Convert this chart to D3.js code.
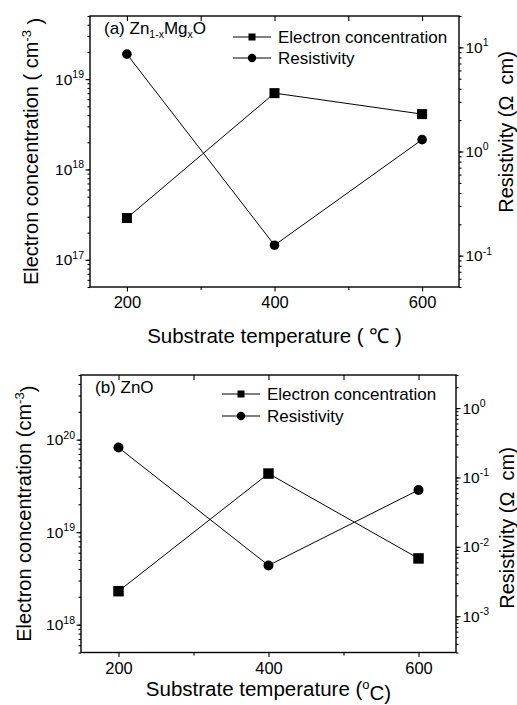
<!DOCTYPE html>
<html>
<head>
	<title>Electron concentration and resistivity</title>
	<script src="https://d3js.org/d3.v7.min.js"></script>
	<style>
		body { margin: 0; background: #fff; }
		text { font-family: "Liberation Sans", Arial, sans-serif; fill: #000; white-space: pre; }
	</style>
</head>
<body>
<script>
var temps = [200, 400, 600];
var xMajor = [200, 400, 600];
var xMinor = [300, 500];

// (a) Zn1-xMgxO
var electronA = [2.9e17, 7.0e18, 4.1e18];
var resistA = [8.6, 0.126, 1.3];
var leftTicksA = [1e17, 1e18, 1e19];
var rightTicksA = [1e-1, 1e0, 1e1];

// (b) ZnO
var electronB = [2.3e18, 4.3e19, 5.2e18];
var resistB = [0.27, 0.0054, 0.066];
var leftTicksB = [1e18, 1e19, 1e20];
var rightTicksB = [1e-3, 1e-2, 1e-1, 1e0];

var legendNames = ["Electron concentration", "Resistivity"];

var svg = d3.select("body")
       .append("svg")
       .attr("width", 517)
       .attr("height", 705);

function minorLog(scale) {
	var dom = scale.domain();
	return scale.ticks().filter(function(d){
		return d >= dom[0] * 0.999 && d <= dom[1] * 1.001;
	});
}

function supLabels(ax, size) {
	ax.selectAll(".tick text").each(function(d){
		var t = d3.select(this).text("10");
		t.append("tspan")
			.attr("dy", "-0.62em")
			.attr("font-size", size)
			.text(Math.round(Math.log10(d)));
	});
}

function panel(o) {
	var g = svg.append("g");
	var x = d3.scaleLinear().domain([150, 650]).range([o.left, o.right]);
	var yl = d3.scaleLog().domain(o.leftDomain).range([o.bottom, o.top]);
	var yr = d3.scaleLog().domain(o.rightDomain).range([o.bottom, o.top]);

	// bottom axis, ticks out
	var bx = g.append("g").attr("transform", "translate(0," + o.bottom + ")")
		.call(d3.axisBottom(x).tickValues(xMajor).tickSize(4.5).tickPadding(5).tickSizeOuter(0));
	bx.selectAll("text").attr("font-size", 16.5);
	g.append("g").attr("transform", "translate(0," + o.bottom + ")")
		.call(d3.axisBottom(x).tickValues(xMinor).tickSize(3).tickFormat("").tickSizeOuter(0));
	// top axis, ticks in
	g.append("g").attr("transform", "translate(0," + o.top + ")")
		.call(d3.axisTop(x).tickValues(xMajor.concat(xMinor)).tickSize(-5).tickFormat("").tickSizeOuter(0));

	// left axis
	var la = g.append("g").attr("transform", "translate(" + o.left + ",0)")
		.call(d3.axisLeft(yl).tickValues(o.leftTicks).tickSize(4.5).tickPadding(1.5).tickSizeOuter(0));
	la.selectAll("text").attr("font-size", 15.5);
	supLabels(la, 10.5);
	g.append("g").attr("transform", "translate(" + o.left + ",0)")
		.call(d3.axisLeft(yl).tickValues(minorLog(yl)).tickSize(2.5).tickFormat("").tickSizeOuter(0));

	// right axis
	var ra = g.append("g").attr("transform", "translate(" + o.right + ",0)")
		.call(d3.axisRight(yr).tickValues(o.rightTicks).tickSize(4.5).tickPadding(2).tickSizeOuter(0));
	ra.selectAll("text").attr("font-size", 15.5);
	supLabels(ra, 10.5);
	g.append("g").attr("transform", "translate(" + o.right + ",0)")
		.call(d3.axisRight(yr).tickValues(minorLog(yr)).tickSize(2.5).tickFormat("").tickSizeOuter(0));

	g.selectAll(".domain").remove();
	g.selectAll(".tick line").attr("stroke", "#000").attr("stroke-width", 1.1);

	g.append("rect")
		.attr("x", o.left).attr("y", o.top)
		.attr("width", o.right - o.left).attr("height", o.bottom - o.top)
		.attr("fill", "none").attr("stroke", "#000").attr("stroke-width", 1.4);

	var lineL = d3.line().x(function(d, i){ return x(temps[i]); }).y(function(d){ return yl(d); });
	var lineR = d3.line().x(function(d, i){ return x(temps[i]); }).y(function(d){ return yr(d); });

	g.append("path").attr("d", lineL(o.electron)).attr("fill", "none").attr("stroke", "#000").attr("stroke-width", 1);
	g.append("path").attr("d", lineR(o.resist)).attr("fill", "none").attr("stroke", "#000").attr("stroke-width", 1);

	g.selectAll("rect.sq").data(o.electron).enter().append("rect")
		.attr("class", "sq")
		.attr("x", function(d, i){ return x(temps[i]) - o.sq / 2; })
		.attr("y", function(d){ return yl(d) - o.sq / 2; })
		.attr("width", o.sq).attr("height", o.sq)
		.attr("fill", "#000");
	g.selectAll("circle.ci").data(o.resist).enter().append("circle")
		.attr("class", "ci")
		.attr("cx", function(d, i){ return x(temps[i]); })
		.attr("cy", function(d){ return yr(d); })
		.attr("r", o.cr)
		.attr("fill", "#000");

	// legend
	var lg = g.append("g");
	lg.selectAll("line").data(legendNames).enter().append("line")
		.attr("x1", o.legX).attr("x2", o.legX + 38)
		.attr("y1", function(d, i){ return o.legY[i]; })
		.attr("y2", function(d, i){ return o.legY[i]; })
		.attr("stroke", "#000").attr("stroke-width", 1);
	lg.append("rect").attr("x", o.legX + 19 - 3.5).attr("y", o.legY[0] - 3.5)
		.attr("width", 7).attr("height", 7).attr("fill", "#000");
	lg.append("circle").attr("cx", o.legX + 19).attr("cy", o.legY[1]).attr("r", 4.2).attr("fill", "#000");
	lg.selectAll("text").data(legendNames).enter().append("text")
		.attr("x", o.legX + 45)
		.attr("y", function(d, i){ return o.legY[i]; })
		.attr("dy", "0.36em")
		.attr("font-size", 17)
		.text(function(d){ return d; });

	// panel title
	var tt = g.append("text").attr("x", o.left + 14).attr("y", o.top + 18).attr("font-size", 17);
	o.title(tt);

	// axis titles
	var lt = g.append("text")
		.attr("transform", "translate(" + o.leftTitleX + "," + ((o.top + o.bottom) / 2) + ") rotate(-90)")
		.attr("text-anchor", "middle").attr("dy", "0.36em").attr("font-size", 20);
	lt.append("tspan").text(o.leftTitle[0]);
	lt.append("tspan").attr("dy", "-0.55em").attr("font-size", 13).text("-3");
	lt.append("tspan").attr("dy", "0.55em").text(o.leftTitle[1]);

	g.append("text")
		.attr("transform", "translate(" + o.rightTitleX + "," + o.rightTitleY + ") rotate(-90)")
		.attr("text-anchor", "middle").attr("dy", "0.36em").attr("font-size", 20)
		.text("Resistivity (\u03A9  cm)");

	var xt = g.append("text")
		.attr("x", (o.left + o.right) / 2 + 0).attr("y", o.xTitleY)
		.attr("text-anchor", "middle").attr("font-size", 20.5);
	o.xTitle(xt);
}

panel({
	left: 90, right: 459, top: 16, bottom: 287,
	leftDomain: [5e16, 5e19], rightDomain: [0.05, 20],
	leftTicks: leftTicksA, rightTicks: rightTicksA,
	electron: electronA, resist: resistA,
	sq: 10, cr: 4.8,
	legX: 233, legY: [37, 58],
	leftTitleX: 31, leftTitle: ["Electron concentration ( cm", " )"],
	rightTitleX: 506, rightTitleY: 132,
	xTitleY: 343,
	title: function(t){
		t.append("tspan").text("(a) Zn");
		t.append("tspan").attr("dy", 4).attr("font-size", 10.5).text("1-x");
		t.append("tspan").attr("dy", -4).text("Mg");
		t.append("tspan").attr("dy", 4).attr("font-size", 10.5).text("x");
		t.append("tspan").attr("dy", -4).text("O");
	},
	xTitle: function(t){ t.text("Substrate temperature ( \u2103 )"); }
});

panel({
	left: 81, right: 456, top: 375, bottom: 652.5,
	leftDomain: [5e17, 5e20], rightDomain: [3e-4, 3],
	leftTicks: leftTicksB, rightTicks: rightTicksB,
	electron: electronB, resist: resistB,
	sq: 10.5, cr: 5,
	legX: 222, legY: [394, 416],
	leftTitleX: 24, leftTitle: ["Electron concentration (cm", ")"],
	rightTitleX: 507, rightTitleY: 528,
	xTitleY: 696,
	title: function(t){ t.text("(b) ZnO"); },
	xTitle: function(t){
		t.append("tspan").text("Substrate temperature (");
		t.append("tspan").attr("dy", "-0.55em").attr("font-size", 13).text("o");
		t.append("tspan").attr("dy", "0.55em").text("C)");
	}
});
</script>
</body>
</html>
